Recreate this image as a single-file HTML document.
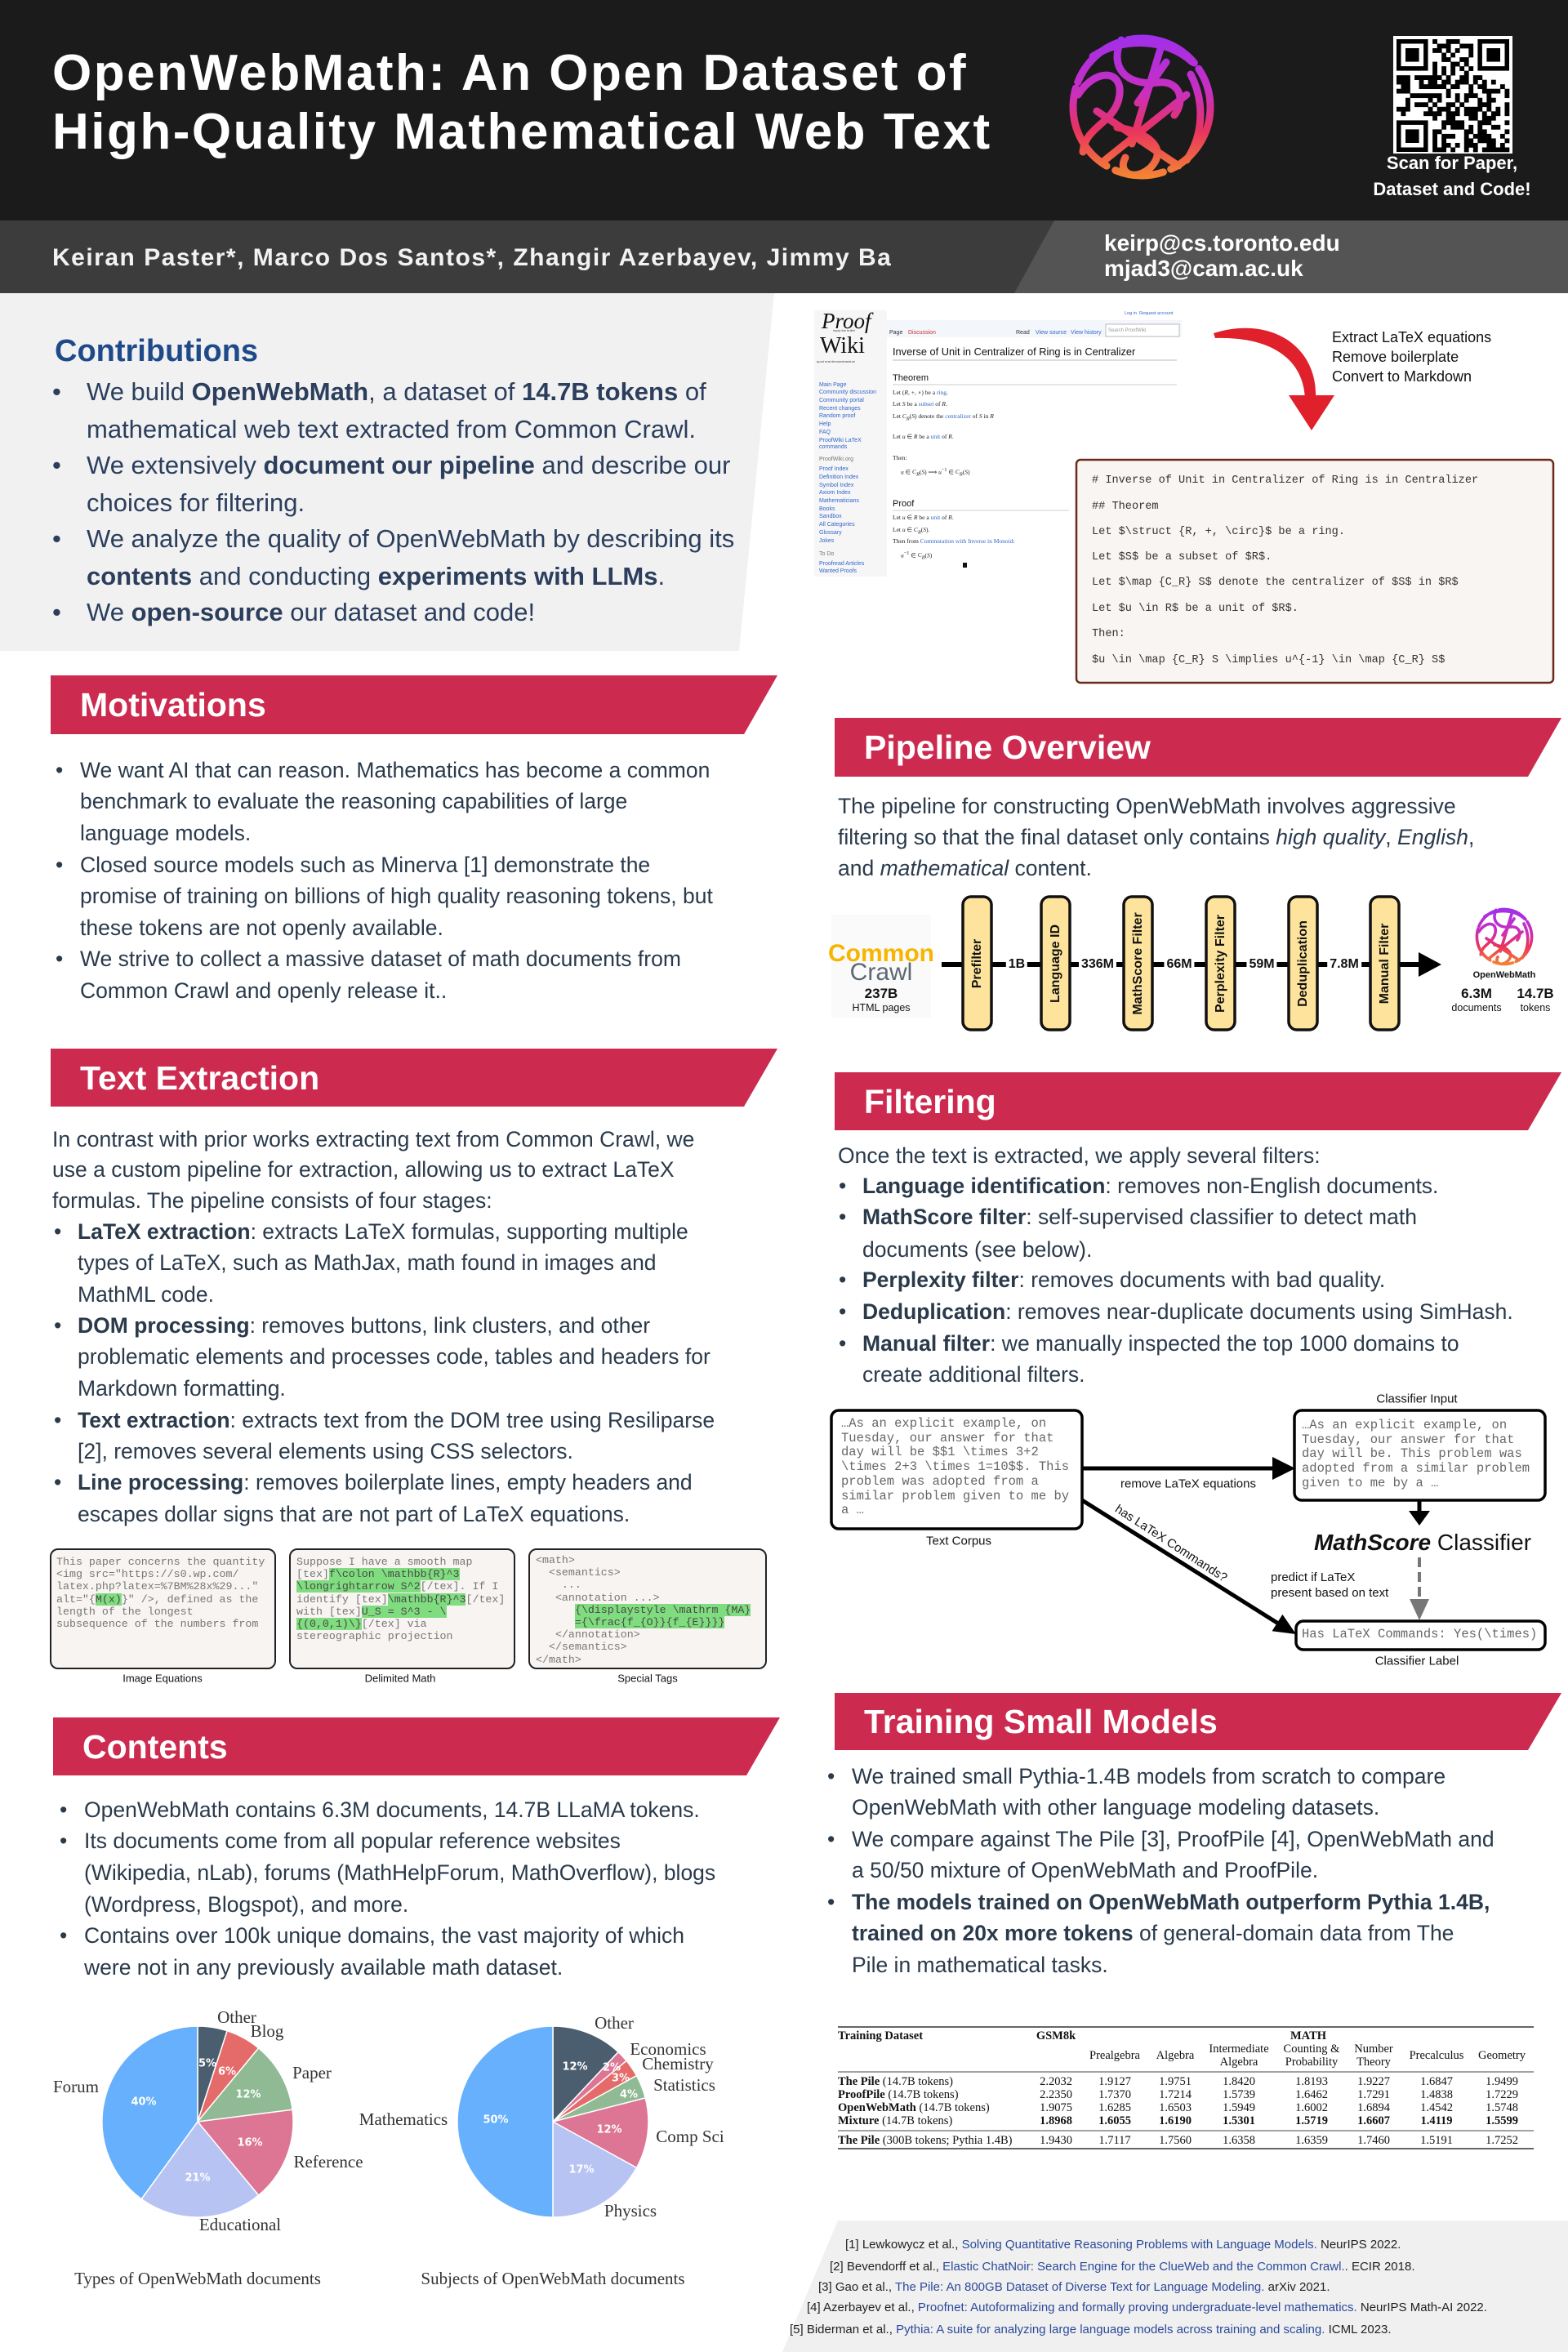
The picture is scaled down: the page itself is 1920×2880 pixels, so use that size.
<!DOCTYPE html>
<html><head><meta charset="utf-8">
<style>
body{margin:0;width:1920px;height:2880px;position:relative;overflow:hidden;background:#fff;font-family:"Liberation Sans",Arial,sans-serif}
.a{position:absolute;white-space:nowrap}
.t{position:absolute;white-space:nowrap;font-size:26.5px;color:#2a3a4b;line-height:38px;margin-top:-19px}
.c{position:absolute;white-space:nowrap;font-size:31px;color:#2b3e5c;line-height:44px;margin-top:-22px}
.h{position:absolute;white-space:nowrap;color:#fff;font-weight:bold;font-size:41px;line-height:50px;margin-top:-25px}
.mono{font-family:"Liberation Mono","DejaVu Sans Mono",monospace}
.box{position:absolute;border:2.5px solid #222;border-radius:10px;background:#f8f4f1;box-sizing:border-box;overflow:hidden}
.box pre{margin:0;font-family:"Liberation Mono",monospace;font-size:13.3px;line-height:15.2px;color:#777;position:absolute}
.g{background:#7fdc7f;color:#4a4a4a}
.cap{position:absolute;white-space:nowrap;font-size:13px;color:#111;transform:translate(-50%,-50%)}
.pl{position:absolute;white-space:nowrap;font-weight:bold;font-size:16px;color:#111;transform:translate(-50%,-50%) rotate(-90deg)}
.el{position:absolute;white-space:nowrap;font-weight:bold;font-size:16px;color:#111;background:#fff;padding:0 3px;transform:translate(-50%,-50%);line-height:20px}
.cc{position:absolute;white-space:nowrap;transform:translate(-50%,-50%)}
.cl{position:absolute;white-space:pre;font-family:"Liberation Mono",monospace;font-size:15.5px;line-height:17.7px;color:#666}
.lbl{position:absolute;white-space:nowrap;font-size:15px;color:#111;transform:translate(-50%,-50%)}
.tb{position:absolute;white-space:nowrap;font-family:"Liberation Serif",serif;font-size:14.5px;color:#111;line-height:16px;margin-top:-8px}
.tv{position:absolute;white-space:nowrap;font-family:"Liberation Serif",serif;font-size:14.5px;color:#111;line-height:16px;margin-top:-8px;transform:translateX(-50%)}
.ref{position:absolute;white-space:nowrap;font-size:15px;color:#222;line-height:20px;margin-top:-10px}
.ref span{color:#2b4a9a}
.w{position:absolute;white-space:nowrap;font-size:7px;color:#3366cc;line-height:9px;margin-top:-4.5px}
.wt{position:absolute;white-space:nowrap;font-size:7.5px;color:#222;line-height:9px;margin-top:-4.5px;font-family:"Liberation Serif",serif}
.code{position:absolute;white-space:pre;font-family:"Liberation Mono",monospace;font-size:13.6px;color:#333;line-height:18px;margin-top:-9px}
</style></head><body>

<svg width="1920" height="2880" style="position:absolute;left:0;top:0">
<defs>
<linearGradient id="lg" gradientUnits="userSpaceOnUse" x1="0" y1="-95" x2="0" y2="95">
<stop offset="0" stop-color="#9b2ff0"/><stop offset=".4" stop-color="#c92fc0"/><stop offset=".65" stop-color="#e8335f"/><stop offset="1" stop-color="#f6922c"/>
</linearGradient>
<g id="logo" fill="none" stroke="url(#lg)" stroke-width="9" stroke-linecap="round">
<circle r="84" stroke-dasharray="95 10 60 12 110 8 70 14 90 9"/>
<path d="M-60 -62 C-25 -85 30 -85 62 -55"/>
<path d="M-78 -15 C-55 -50 -20 -45 -28 -10 C-35 20 -70 25 -72 55"/>
<path d="M-25 -82 C-40 -50 -20 -25 20 -30 C45 -33 55 -10 40 10"/>
<path d="M25 -78 L-12 45"/>
<path d="M-55 5 L45 72"/>
<path d="M-45 65 L55 -15"/>
<path d="M-30 25 C5 30 35 50 10 75 C-10 92 -30 80 -20 62"/>
<path d="M60 -40 C78 -5 75 35 55 65"/>
<path d="M-5 -5 L30 -55"/>
</g>
</defs>
<!-- header -->
<rect x="0" y="0" width="1920" height="270" fill="#1b1b1b"/>
<rect x="0" y="270" width="1920" height="89" fill="#3c3c3c"/>
<polygon points="1291,270 1920,270 1920,359 1242,359" fill="#545454"/>
<use href="#logo" transform="translate(1398,131)"/>
<rect x="1706" y="44" width="146" height="144" fill="#fff"/>
<g id="qr" transform="translate(1710,48)">
<g fill="#000">
<rect x="0" y="0" width="38.6" height="38.6"/><rect x="5.5" y="5.5" width="27.6" height="27.6" fill="#fff"/><rect x="11" y="11" width="16.6" height="16.6"/>
<rect x="99.4" y="0" width="38.6" height="38.6"/><rect x="104.9" y="5.5" width="27.6" height="27.6" fill="#fff"/><rect x="110.4" y="11" width="16.6" height="16.6"/>
<rect x="0" y="99.4" width="38.6" height="38.6"/><rect x="5.5" y="104.9" width="27.6" height="27.6" fill="#fff"/><rect x="11" y="110.4" width="16.6" height="16.6"/>
</g>
</g>
<!-- contributions bg -->
<polygon points="0,359 948,359 905,797 0,797" fill="#f1f1f2"/>
<!-- banners -->
<g fill="#cc2a4f">
<polygon points="62,827 952,827 911,899 62,899"/>
<polygon points="62,1284 952,1284 911,1355 62,1355"/>
<polygon points="65,2103 955,2103 914,2174 65,2174"/>
<polygon points="1022,879 1912,879 1871,951 1022,951"/>
<polygon points="1022,1313 1912,1313 1871,1384 1022,1384"/>
<polygon points="1022,2073 1912,2073 1871,2143 1022,2143"/>
</g>
<!-- wiki screenshot -->
<rect x="997" y="380" width="450" height="326" fill="#fff"/>
<rect x="997" y="380" width="89" height="326" fill="#f6f6f6"/>
<rect x="1086" y="392" width="361" height="21" fill="#f3f6fb"/>
<rect x="1354" y="397" width="90" height="15" fill="#fff" stroke="#bbb" stroke-width="1"/>
<line x1="1093" y1="441" x2="1441" y2="441" stroke="#bbb" stroke-width="1"/>
<line x1="1093" y1="471" x2="1441" y2="471" stroke="#ccc" stroke-width="1"/>
<line x1="1093" y1="625" x2="1309" y2="625" stroke="#ccc" stroke-width="1"/>
<rect x="1179" y="689" width="5" height="6" fill="#111"/>
<!-- red arrow -->
<path d="M1486 408 C1557 386 1614 425 1611 488 L1598 488 C1596 440 1557 412 1488 414 Z" fill="#e0202a"/>
<polygon points="1578,484 1634,484 1606,527" fill="#e0202a"/>
<!-- code box -->
<rect x="1318" y="563" width="584" height="273" rx="5" fill="#f9f5f2" stroke="#6b2a1a" stroke-width="2.5"/>
<!-- pipeline -->
<rect x="1018" y="1120" width="122" height="126" fill="#fafafa"/>
<line x1="1153" y1="1181" x2="1740" y2="1181" stroke="#000" stroke-width="6"/>
<polygon points="1737,1166 1765,1181 1737,1196" fill="#000"/>
<g fill="#fde39b" stroke="#111" stroke-width="3.5">
<rect x="1179" y="1098" width="35" height="163" rx="10"/>
<rect x="1275" y="1098" width="35" height="163" rx="10"/>
<rect x="1376" y="1098" width="35" height="163" rx="10"/>
<rect x="1477" y="1098" width="35" height="163" rx="10"/>
<rect x="1578" y="1098" width="35" height="163" rx="10"/>
<rect x="1678" y="1098" width="35" height="163" rx="10"/>
</g>
<use href="#logo" transform="translate(1842,1147) scale(0.4)"/>
<!-- classifier -->
<g fill="#fff" stroke="#000" stroke-width="3.5">
<rect x="1018" y="1727" width="307" height="145" rx="9"/>
<rect x="1585" y="1727" width="307" height="110" rx="9"/>
<rect x="1587" y="1985" width="305" height="35" rx="9"/>
</g>
<line x1="1325" y1="1798" x2="1562" y2="1798" stroke="#000" stroke-width="5"/>
<polygon points="1558,1784 1586,1798 1558,1812" fill="#000"/>
<line x1="1738" y1="1837" x2="1738" y2="1852" stroke="#000" stroke-width="5"/>
<polygon points="1725,1850 1751,1850 1738,1868" fill="#000"/>
<line x1="1738" y1="1907" x2="1738" y2="1960" stroke="#777" stroke-width="4" stroke-dasharray="12 6"/>
<polygon points="1726,1958 1750,1958 1738,1984" fill="#777"/>
<line x1="1325" y1="1837" x2="1570" y2="1991" stroke="#000" stroke-width="5"/>
<polygon points="1557.6,1997.3 1570.4,1976.9 1587,2001" fill="#000"/>
<!-- pies -->
<g stroke="#fff" stroke-width="1.5">
<path d="M242 2598 L242 2481 A117 117 0 0 1 278.2 2486.7 Z" fill="#4b5e6f"/>
<path d="M242 2598 L278.2 2486.7 A117 117 0 0 1 316.6 2507.9 Z" fill="#e56b6b"/>
<path d="M242 2598 L316.6 2507.9 A117 117 0 0 1 358.1 2583.3 Z" fill="#8fba93"/>
<path d="M242 2598 L358.1 2583.3 A117 117 0 0 1 316.6 2688.1 Z" fill="#dd7595"/>
<path d="M242 2598 L316.6 2688.1 A117 117 0 0 1 173.2 2692.7 Z" fill="#b7c3f2"/>
<path d="M242 2598 L173.2 2692.7 A117 117 0 0 1 242 2481 Z" fill="#66b0fd"/>
<path d="M677 2598 L677 2481 A117 117 0 0 1 757.1 2512.7 Z" fill="#4b5e6f"/>
<path d="M677 2598 L757.1 2512.7 A117 117 0 0 1 767.1 2523.4 Z" fill="#dd7595"/>
<path d="M677 2598 L767.1 2523.4 A117 117 0 0 1 779.5 2541.6 Z" fill="#e56b6b"/>
<path d="M677 2598 L779.5 2541.6 A117 117 0 0 1 790.3 2568.9 Z" fill="#8fba93"/>
<path d="M677 2598 L790.3 2568.9 A117 117 0 0 1 779.5 2654.4 Z" fill="#dd7595"/>
<path d="M677 2598 L779.5 2654.4 A117 117 0 0 1 677 2715 Z" fill="#b7c3f2"/>
<path d="M677 2598 L677 2715 A117 117 0 0 1 677 2481 Z" fill="#66b0fd"/>
</g>
<g font-family="DejaVu Sans, sans-serif" font-weight="bold" font-size="13" fill="#fff" text-anchor="middle" dominant-baseline="central">
<text x="254" y="2527">5%</text><text x="278" y="2537">6%</text><text x="304" y="2565">12%</text><text x="306" y="2624">16%</text><text x="242" y="2667">21%</text><text x="176" y="2574">40%</text>
<text x="704" y="2531">12%</text><text x="749" y="2532">2%</text><text x="760" y="2545">3%</text><text x="770" y="2565">4%</text><text x="746" y="2608">12%</text><text x="712" y="2657">17%</text><text x="607" y="2596">50%</text>
</g>
<g font-family="Liberation Serif, serif" font-size="21" fill="#333" text-anchor="middle" dominant-baseline="central">
<text x="290" y="2470">Other</text><text x="327" y="2487">Blog</text><text x="382" y="2538">Paper</text><text x="402" y="2647">Reference</text><text x="294" y="2724">Educational</text><text x="93" y="2555">Forum</text>
<text x="752" y="2477">Other</text><text x="818" y="2509">Economics</text><text x="830" y="2527">Chemistry</text><text x="838" y="2553">Statistics</text><text x="845" y="2616">Comp Sci</text><text x="772" y="2707">Physics</text><text x="494" y="2595">Mathematics</text>
<text x="242" y="2790">Types of OpenWebMath documents</text>
<text x="677" y="2790">Subjects of OpenWebMath documents</text>
</g>
<!-- table rules -->
<line x1="1026" y1="2482" x2="1878" y2="2482" stroke="#333" stroke-width="1.6"/>
<line x1="1026" y1="2537" x2="1878" y2="2537" stroke="#444" stroke-width="1"/>
<line x1="1026" y1="2609" x2="1878" y2="2609" stroke="#444" stroke-width="1"/>
<line x1="1026" y1="2631" x2="1878" y2="2631" stroke="#333" stroke-width="1.4"/>
<!-- references bg -->
<polygon points="1026,2719 1920,2719 1920,2880 958,2880" fill="#f0f0f0"/>
</svg>

<!-- HEADER TEXT -->
<div class="a" style="left:64px;top:54px;font-size:62px;letter-spacing:2.5px;font-weight:bold;color:#fff;line-height:72px">OpenWebMath: An Open Dataset of</div>
<div class="a" style="left:64px;top:126px;font-size:62px;letter-spacing:2.5px;font-weight:bold;color:#fff;line-height:72px">High-Quality Mathematical Web Text</div>
<div class="cc" style="left:1778px;top:200px;font-size:22px;font-weight:bold;color:#fff">Scan for Paper,</div>
<div class="cc" style="left:1778px;top:232px;font-size:22px;font-weight:bold;color:#fff">Dataset and Code!</div>
<div class="a" style="left:64px;top:296px;font-size:30px;letter-spacing:1.5px;font-weight:bold;color:#f2f2f2;line-height:40px">Keiran Paster*, Marco Dos Santos*, Zhangir Azerbayev, Jimmy Ba</div>
<div class="a" style="left:1352px;top:279px;font-size:28px;font-weight:bold;color:#fff;line-height:38px">keirp@cs.toronto.edu</div>
<div class="a" style="left:1352px;top:310px;font-size:28px;font-weight:bold;color:#fff;line-height:38px">mjad3@cam.ac.uk</div>

<!-- CONTRIBUTIONS -->
<div class="a" style="left:67px;top:406px;font-size:38px;font-weight:bold;color:#1f4a8a;line-height:48px">Contributions</div>
<div class="c" style="left:64px;top:480px">•</div><div class="c" style="left:106px;top:480px">We build <b>OpenWebMath</b>, a dataset of <b>14.7B tokens</b> of</div>
<div class="c" style="left:106px;top:526px">mathematical web text extracted from Common Crawl.</div>
<div class="c" style="left:64px;top:570px">•</div><div class="c" style="left:106px;top:570px">We extensively <b>document our pipeline</b> and describe our</div>
<div class="c" style="left:106px;top:616px">choices for filtering.</div>
<div class="c" style="left:64px;top:660px">•</div><div class="c" style="left:106px;top:660px">We analyze the quality of OpenWebMath by describing its</div>
<div class="c" style="left:106px;top:706px"><b>contents</b> and conducting <b>experiments with LLMs</b>.</div>
<div class="c" style="left:64px;top:750px">•</div><div class="c" style="left:106px;top:750px">We <b>open-source</b> our dataset and code!</div>

<!-- WIKI screenshot text -->
<div class="a" style="left:1006px;top:378px;font-family:'Liberation Serif',serif;font-style:italic;font-size:27px;color:#111;line-height:30px">Proof</div>
<div class="a" style="left:1020px;top:402px;font-size:4px;color:#444">imply the bullet</div>
<div class="a" style="left:1004px;top:409px;font-family:'Liberation Serif',serif;font-size:28px;color:#111;line-height:30px">Wiki</div>
<div class="a" style="left:1000px;top:440px;font-size:4px;color:#444">quod erat demonstrandum</div>
<div class="w" style="left:1003px;top:471px">Main Page</div>
<div class="w" style="left:1003px;top:480px">Community discussion</div>
<div class="w" style="left:1003px;top:490px">Community portal</div>
<div class="w" style="left:1003px;top:500px">Recent changes</div>
<div class="w" style="left:1003px;top:509px">Random proof</div>
<div class="w" style="left:1003px;top:519px">Help</div>
<div class="w" style="left:1003px;top:529px">FAQ</div>
<div class="w" style="left:1003px;top:539px">ProofWiki LaTeX</div>
<div class="w" style="left:1003px;top:547px">commands</div>
<div class="w" style="left:1003px;top:562px;color:#777">ProofWiki.org</div>
<div class="w" style="left:1003px;top:574px">Proof Index</div>
<div class="w" style="left:1003px;top:584px">Definition Index</div>
<div class="w" style="left:1003px;top:594px">Symbol Index</div>
<div class="w" style="left:1003px;top:603px">Axiom Index</div>
<div class="w" style="left:1003px;top:613px">Mathematicians</div>
<div class="w" style="left:1003px;top:623px">Books</div>
<div class="w" style="left:1003px;top:632px">Sandbox</div>
<div class="w" style="left:1003px;top:642px">All Categories</div>
<div class="w" style="left:1003px;top:652px">Glossary</div>
<div class="w" style="left:1003px;top:662px">Jokes</div>
<div class="w" style="left:1003px;top:678px;color:#777">To Do</div>
<div class="w" style="left:1003px;top:690px">Proofread Articles</div>
<div class="w" style="left:1003px;top:699px">Wanted Proofs</div>
<div class="w" style="left:1377px;top:384px;font-size:5.5px">Log in &nbsp;Request account</div>
<div class="w" style="left:1089px;top:407px;color:#333">Page</div>
<div class="w" style="left:1112px;top:407px;color:#c33">Discussion</div>
<div class="w" style="left:1244px;top:407px;color:#333">Read</div>
<div class="w" style="left:1268px;top:407px">View source</div>
<div class="w" style="left:1311px;top:407px">View history</div>
<div class="w" style="left:1357px;top:405px;color:#999;font-size:6px">Search ProofWiki</div>
<div class="a" style="left:1093px;top:423px;font-size:12.8px;color:#111;line-height:16px">Inverse of Unit in Centralizer of Ring is in Centralizer</div>
<div class="a" style="left:1093px;top:456px;font-size:11px;color:#111;line-height:14px">Theorem</div>
<div class="wt" style="left:1093px;top:480px">Let (<i>R</i>, +, ∘) be a <span style="color:#3366cc">ring</span>.</div>
<div class="wt" style="left:1093px;top:494px">Let <i>S</i> be a <span style="color:#3366cc">subset</span> of <i>R</i>.</div>
<div class="wt" style="left:1093px;top:509px">Let <i>C<sub>R</sub></i>(<i>S</i>) denote the <span style="color:#3366cc">centralizer</span> of <i>S</i> in <i>R</i></div>
<div class="wt" style="left:1093px;top:534px">Let <i>u</i> ∈ <i>R</i> be a <span style="color:#3366cc">unit</span> of <i>R</i>.</div>
<div class="wt" style="left:1093px;top:560px">Then:</div>
<div class="wt" style="left:1103px;top:575px"><i>u</i> ∈ <i>C<sub>R</sub></i>(<i>S</i>) ⟹ <i>u</i><sup>−1</sup> ∈ <i>C<sub>R</sub></i>(<i>S</i>)</div>
<div class="a" style="left:1093px;top:610px;font-size:11px;color:#111;line-height:14px">Proof</div>
<div class="wt" style="left:1093px;top:633px">Let <i>u</i> ∈ <i>R</i> be a <span style="color:#3366cc">unit</span> of <i>R</i>.</div>
<div class="wt" style="left:1093px;top:648px">Let <i>u</i> ∈ <i>C<sub>R</sub></i>(<i>S</i>).</div>
<div class="wt" style="left:1093px;top:662px">Then from <span style="color:#3366cc">Commutation with Inverse in Monoid</span>:</div>
<div class="wt" style="left:1103px;top:677px"><i>u</i><sup>−1</sup> ∈ <i>C<sub>R</sub></i>(<i>S</i>)</div>

<div class="a" style="left:1631px;top:401px;font-size:18px;color:#111;line-height:24px">Extract LaTeX equations</div>
<div class="a" style="left:1631px;top:425px;font-size:18px;color:#111;line-height:24px">Remove boilerplate</div>
<div class="a" style="left:1631px;top:449px;font-size:18px;color:#111;line-height:24px">Convert to Markdown</div>

<div class="code" style="left:1337px;top:589px"># Inverse of Unit in Centralizer of Ring is in Centralizer</div>
<div class="code" style="left:1337px;top:621px">## Theorem</div>
<div class="code" style="left:1337px;top:652px">Let $\struct {R, +, \circ}$ be a ring.</div>
<div class="code" style="left:1337px;top:683px">Let $S$ be a subset of $R$.</div>
<div class="code" style="left:1337px;top:714px">Let $\map {C_R} S$ denote the centralizer of $S$ in $R$</div>
<div class="code" style="left:1337px;top:746px">Let $u \in R$ be a unit of $R$.</div>
<div class="code" style="left:1337px;top:777px">Then:</div>
<div class="code" style="left:1337px;top:809px">$u \in \map {C_R} S \implies u^{-1} \in \map {C_R} S$</div>

<!-- BANNER HEADINGS -->
<div class="h" style="left:98px;top:863px">Motivations</div>
<div class="h" style="left:98px;top:1320px">Text Extraction</div>
<div class="h" style="left:101px;top:2139px">Contents</div>
<div class="h" style="left:1058px;top:915px">Pipeline Overview</div>
<div class="h" style="left:1058px;top:1349px">Filtering</div>
<div class="h" style="left:1058px;top:2108px">Training Small Models</div>

<!-- MOTIVATIONS -->
<div class="t" style="left:68px;top:943px">•</div><div class="t" style="left:98px;top:943px">We want AI that can reason. Mathematics has become a common</div>
<div class="t" style="left:98px;top:981px">benchmark to evaluate the reasoning capabilities of large</div>
<div class="t" style="left:98px;top:1020px">language models.</div>
<div class="t" style="left:68px;top:1059px">•</div><div class="t" style="left:98px;top:1059px">Closed source models such as Minerva [1] demonstrate the</div>
<div class="t" style="left:98px;top:1097px">promise of training on billions of high quality reasoning tokens, but</div>
<div class="t" style="left:98px;top:1136px">these tokens are not openly available.</div>
<div class="t" style="left:68px;top:1174px">•</div><div class="t" style="left:98px;top:1174px">We strive to collect a massive dataset of math documents from</div>
<div class="t" style="left:98px;top:1213px">Common Crawl and openly release it..</div>

<!-- TEXT EXTRACTION -->
<div class="t" style="left:64px;top:1395px">In contrast with prior works extracting text from Common Crawl, we</div>
<div class="t" style="left:64px;top:1432px">use a custom pipeline for extraction, allowing us to extract LaTeX</div>
<div class="t" style="left:64px;top:1470px">formulas. The pipeline consists of four stages:</div>
<div class="t" style="left:66px;top:1508px">•</div><div class="t" style="left:95px;top:1508px"><b>LaTeX extraction</b>: extracts LaTeX formulas, supporting multiple</div>
<div class="t" style="left:95px;top:1546px">types of LaTeX, such as MathJax, math found in images and</div>
<div class="t" style="left:95px;top:1585px">MathML code.</div>
<div class="t" style="left:66px;top:1623px">•</div><div class="t" style="left:95px;top:1623px"><b>DOM processing</b>: removes buttons, link clusters, and other</div>
<div class="t" style="left:95px;top:1661px">problematic elements and processes code, tables and headers for</div>
<div class="t" style="left:95px;top:1700px">Markdown formatting.</div>
<div class="t" style="left:66px;top:1739px">•</div><div class="t" style="left:95px;top:1739px"><b>Text extraction</b>: extracts text from the DOM tree using Resiliparse</div>
<div class="t" style="left:95px;top:1777px">[2], removes several elements using CSS selectors.</div>
<div class="t" style="left:66px;top:1815px">•</div><div class="t" style="left:95px;top:1815px"><b>Line processing</b>: removes boilerplate lines, empty headers and</div>
<div class="t" style="left:95px;top:1854px">escapes dollar signs that are not part of LaTeX equations.</div>

<div class="box" style="left:61px;top:1896px;width:277px;height:148px"><pre style="left:6px;top:7px">This paper concerns the quantity
&lt;img src="https://s0.wp.com/
latex.php?latex=%7BM%28x%29..."
alt="{<span class="g">M(x)</span>}" /&gt;, defined as the
length of the longest
subsequence of the numbers from</pre></div>
<div class="box" style="left:354px;top:1896px;width:277px;height:148px"><pre style="left:7px;top:7px">Suppose I have a smooth map
[tex]<span class="g">f\colon \mathbb{R}^3</span>
<span class="g">\longrightarrow S^2</span>[/tex]. If I
identify [tex]<span class="g">\mathbb{R}^3</span>[/tex]
with [tex]<span class="g">U_S = S^3 - \</span>
<span class="g">{(0,0,1)\}</span>[/tex] via
stereographic projection</pre></div>
<div class="box" style="left:647px;top:1896px;width:292px;height:148px"><pre style="left:7px;top:5px">&lt;math&gt;
  &lt;semantics&gt;
    ...
   &lt;annotation ...&gt;
      <span class="g">{\displaystyle \mathrm {MA}</span>
      <span class="g">={\frac{f_{O}}{f_{E}}}}</span>
   &lt;/annotation&gt;
  &lt;/semantics&gt;
&lt;/math&gt;</pre></div>
<div class="cap" style="left:199px;top:2055px">Image Equations</div>
<div class="cap" style="left:490px;top:2055px">Delimited Math</div>
<div class="cap" style="left:793px;top:2055px">Special Tags</div>

<!-- CONTENTS -->
<div class="t" style="left:73px;top:2216px">•</div><div class="t" style="left:103px;top:2216px">OpenWebMath contains 6.3M documents, 14.7B LLaMA tokens.</div>
<div class="t" style="left:73px;top:2254px">•</div><div class="t" style="left:103px;top:2254px">Its documents come from all popular reference websites</div>
<div class="t" style="left:103px;top:2293px">(Wikipedia, nLab), forums (MathHelpForum, MathOverflow), blogs</div>
<div class="t" style="left:103px;top:2332px">(Wordpress, Blogspot), and more.</div>
<div class="t" style="left:73px;top:2370px">•</div><div class="t" style="left:103px;top:2370px">Contains over 100k unique domains, the vast majority of which</div>
<div class="t" style="left:103px;top:2409px">were not in any previously available math dataset.</div>

<!-- PIPELINE -->
<div class="t" style="left:1026px;top:987px">The pipeline for constructing OpenWebMath involves aggressive</div>
<div class="t" style="left:1026px;top:1025px">filtering so that the final dataset only contains <i>high quality</i>, <i>English</i>,</div>
<div class="t" style="left:1026px;top:1063px">and <i>mathematical</i> content.</div>

<div class="cc" style="left:1079px;top:1168px;font-size:30px;color:#f7b500;font-weight:600">Common</div>
<div class="cc" style="left:1079px;top:1191px;font-size:30px;color:#5d6873">Crawl</div>
<div class="cc" style="left:1079px;top:1217px;font-size:17px;font-weight:bold;color:#111">237B</div>
<div class="cc" style="left:1079px;top:1234px;font-size:12.5px;color:#111">HTML pages</div>
<div class="pl" style="left:1196.5px;top:1180px">Prefilter</div>
<div class="pl" style="left:1292.5px;top:1180px">Language ID</div>
<div class="pl" style="left:1393.5px;top:1180px">MathScore Filter</div>
<div class="pl" style="left:1494.5px;top:1180px">Perplexity Filter</div>
<div class="pl" style="left:1595.5px;top:1180px">Deduplication</div>
<div class="pl" style="left:1695.5px;top:1180px">Manual Filter</div>
<div class="el" style="left:1245px;top:1181px">1B</div>
<div class="el" style="left:1344px;top:1181px">336M</div>
<div class="el" style="left:1444px;top:1181px">66M</div>
<div class="el" style="left:1545px;top:1181px">59M</div>
<div class="el" style="left:1646px;top:1181px">7.8M</div>
<div class="cc" style="left:1842px;top:1194px;font-size:11px;font-weight:bold;color:#111">OpenWebMath</div>
<div class="cc" style="left:1808px;top:1217px;font-size:17px;font-weight:bold;color:#111">6.3M</div>
<div class="cc" style="left:1808px;top:1234px;font-size:12.5px;color:#111">documents</div>
<div class="cc" style="left:1880px;top:1217px;font-size:17px;font-weight:bold;color:#111">14.7B</div>
<div class="cc" style="left:1880px;top:1234px;font-size:12.5px;color:#111">tokens</div>

<!-- FILTERING -->
<div class="t" style="left:1026px;top:1415px">Once the text is extracted, we apply several filters:</div>
<div class="t" style="left:1027px;top:1452px">•</div><div class="t" style="left:1056px;top:1452px"><b>Language identification</b>: removes non-English documents.</div>
<div class="t" style="left:1027px;top:1490px">•</div><div class="t" style="left:1056px;top:1490px"><b>MathScore filter</b>: self-supervised classifier to detect math</div>
<div class="t" style="left:1056px;top:1530px">documents (see below).</div>
<div class="t" style="left:1027px;top:1567px">•</div><div class="t" style="left:1056px;top:1567px"><b>Perplexity filter</b>: removes documents with bad quality.</div>
<div class="t" style="left:1027px;top:1606px">•</div><div class="t" style="left:1056px;top:1606px"><b>Deduplication</b>: removes near-duplicate documents using SimHash.</div>
<div class="t" style="left:1027px;top:1645px">•</div><div class="t" style="left:1056px;top:1645px"><b>Manual filter</b>: we manually inspected the top 1000 domains to</div>
<div class="t" style="left:1056px;top:1683px">create additional filters.</div>

<!-- CLASSIFIER -->
<div class="lbl" style="left:1735px;top:1713px">Classifier Input</div>
<div class="cl" style="left:1030px;top:1735px">…As an explicit example, on
Tuesday, our answer for that
day will be $$1 \times 3+2
\times 2+3 \times 1=10$$. This
problem was adopted from a
similar problem given to me by
a …</div>
<div class="cl" style="left:1594px;top:1737px">…As an explicit example, on
Tuesday, our answer for that
day will be. This problem was
adopted from a similar problem
given to me by a …</div>
<div class="lbl" style="left:1174px;top:1887px">Text Corpus</div>
<div class="lbl" style="left:1455px;top:1817px">remove LaTeX equations</div>
<div class="lbl" style="left:1434px;top:1890px;transform:translate(-50%,-50%) rotate(33deg)">has LaTeX Commands?</div>
<div class="cc" style="left:1742px;top:1889px;font-size:28px;color:#111"><b><i>MathScore</i></b> Classifier</div>
<div class="a" style="left:1556px;top:1922px;font-size:15px;color:#111;line-height:19px">predict if LaTeX</div>
<div class="a" style="left:1556px;top:1941px;font-size:15px;color:#111;line-height:19px">present based on text</div>
<div class="cl" style="left:1594px;top:1993px">Has LaTeX Commands: Yes(\times)</div>
<div class="lbl" style="left:1735px;top:2034px">Classifier Label</div>

<!-- TRAINING -->
<div class="t" style="left:1013px;top:2175px">•</div><div class="t" style="left:1043px;top:2175px">We trained small Pythia-1.4B models from scratch to compare</div>
<div class="t" style="left:1043px;top:2213px">OpenWebMath with other language modeling datasets.</div>
<div class="t" style="left:1013px;top:2252px">•</div><div class="t" style="left:1043px;top:2252px">We compare against The Pile [3], ProofPile [4], OpenWebMath and</div>
<div class="t" style="left:1043px;top:2290px">a 50/50 mixture of OpenWebMath and ProofPile.</div>
<div class="t" style="left:1013px;top:2329px">•</div><div class="t" style="left:1043px;top:2329px"><b>The models trained on OpenWebMath outperform Pythia 1.4B,</b></div>
<div class="t" style="left:1043px;top:2367px"><b>trained on 20x more tokens</b> of general-domain data from The</div>
<div class="t" style="left:1043px;top:2406px">Pile in mathematical tasks.</div>

<!-- TABLE -->
<div class="tb" style="left:1026px;top:2493px"><b>Training Dataset</b></div>
<div class="tv" style="left:1293px;top:2493px"><b>GSM8k</b></div>
<div class="tv" style="left:1602px;top:2493px"><b>MATH</b></div>
<div class="tv" style="left:1365px;top:2517px">Prealgebra</div>
<div class="tv" style="left:1439px;top:2517px">Algebra</div>
<div class="tv" style="left:1517px;top:2509px">Intermediate</div>
<div class="tv" style="left:1517px;top:2525px">Algebra</div>
<div class="tv" style="left:1606px;top:2509px">Counting &amp;</div>
<div class="tv" style="left:1606px;top:2525px">Probability</div>
<div class="tv" style="left:1682px;top:2509px">Number</div>
<div class="tv" style="left:1682px;top:2525px">Theory</div>
<div class="tv" style="left:1759px;top:2517px">Precalculus</div>
<div class="tv" style="left:1839px;top:2517px">Geometry</div>

<div class="tb" style="left:1026px;top:2549px"><b>The Pile</b> (14.7B tokens)</div>
<div class="tb" style="left:1026px;top:2565px"><b>ProofPile</b> (14.7B tokens)</div>
<div class="tb" style="left:1026px;top:2581px"><b>OpenWebMath</b> (14.7B tokens)</div>
<div class="tb" style="left:1026px;top:2597px"><b>Mixture</b> (14.7B tokens)</div>
<div class="tb" style="left:1026px;top:2621px"><b>The Pile</b> (300B tokens; Pythia 1.4B)</div>

<div class="tv" style="left:1293px;top:2549px">2.2032</div><div class="tv" style="left:1365px;top:2549px">1.9127</div><div class="tv" style="left:1439px;top:2549px">1.9751</div><div class="tv" style="left:1517px;top:2549px">1.8420</div><div class="tv" style="left:1606px;top:2549px">1.8193</div><div class="tv" style="left:1682px;top:2549px">1.9227</div><div class="tv" style="left:1759px;top:2549px">1.6847</div><div class="tv" style="left:1839px;top:2549px">1.9499</div>
<div class="tv" style="left:1293px;top:2565px">2.2350</div><div class="tv" style="left:1365px;top:2565px">1.7370</div><div class="tv" style="left:1439px;top:2565px">1.7214</div><div class="tv" style="left:1517px;top:2565px">1.5739</div><div class="tv" style="left:1606px;top:2565px">1.6462</div><div class="tv" style="left:1682px;top:2565px">1.7291</div><div class="tv" style="left:1759px;top:2565px">1.4838</div><div class="tv" style="left:1839px;top:2565px">1.7229</div>
<div class="tv" style="left:1293px;top:2581px">1.9075</div><div class="tv" style="left:1365px;top:2581px">1.6285</div><div class="tv" style="left:1439px;top:2581px">1.6503</div><div class="tv" style="left:1517px;top:2581px">1.5949</div><div class="tv" style="left:1606px;top:2581px">1.6002</div><div class="tv" style="left:1682px;top:2581px">1.6894</div><div class="tv" style="left:1759px;top:2581px">1.4542</div><div class="tv" style="left:1839px;top:2581px">1.5748</div>
<div class="tv" style="left:1293px;top:2597px"><b>1.8968</b></div><div class="tv" style="left:1365px;top:2597px"><b>1.6055</b></div><div class="tv" style="left:1439px;top:2597px"><b>1.6190</b></div><div class="tv" style="left:1517px;top:2597px"><b>1.5301</b></div><div class="tv" style="left:1606px;top:2597px"><b>1.5719</b></div><div class="tv" style="left:1682px;top:2597px"><b>1.6607</b></div><div class="tv" style="left:1759px;top:2597px"><b>1.4119</b></div><div class="tv" style="left:1839px;top:2597px"><b>1.5599</b></div>
<div class="tv" style="left:1293px;top:2621px">1.9430</div><div class="tv" style="left:1365px;top:2621px">1.7117</div><div class="tv" style="left:1439px;top:2621px">1.7560</div><div class="tv" style="left:1517px;top:2621px">1.6358</div><div class="tv" style="left:1606px;top:2621px">1.6359</div><div class="tv" style="left:1682px;top:2621px">1.7460</div><div class="tv" style="left:1759px;top:2621px">1.5191</div><div class="tv" style="left:1839px;top:2621px">1.7252</div>

<!-- REFERENCES -->
<div class="ref" style="left:1035px;top:2749px">[1] Lewkowycz et al., <span>Solving Quantitative Reasoning Problems with Language Models.</span> NeurIPS 2022.</div>
<div class="ref" style="left:1016px;top:2776px">[2] Bevendorff et al., <span>Elastic ChatNoir: Search Engine for the ClueWeb and the Common Crawl.</span>. ECIR 2018.</div>
<div class="ref" style="left:1002px;top:2801px">[3] Gao et al., <span>The Pile: An 800GB Dataset of Diverse Text for Language Modeling.</span> arXiv 2021.</div>
<div class="ref" style="left:988px;top:2826px">[4] Azerbayev et al., <span>Proofnet: Autoformalizing and formally proving undergraduate-level mathematics.</span> NeurIPS Math-AI 2022.</div>
<div class="ref" style="left:967px;top:2853px">[5] Biderman et al., <span>Pythia: A suite for analyzing large language models across training and scaling.</span> ICML 2023.</div>

<script>
(function(){
var g=document.getElementById('qr');if(!g)return;
var n=25,s=138/25,seed=12345,out='';
function r(){seed=(seed*16807)%2147483647;return seed/2147483647;}
function inF(i,j,a,b){return i>=a&&i<a+8&&j>=b&&j<b+8;}
for(var i=0;i<n;i++){for(var j=0;j<n;j++){
if(inF(i,j,0,0)||inF(i,j,0,17)||inF(i,j,17,0))continue;
var d;
if(i==6||j==6){d=((i+j)%2==0);}
else d=r()<0.5;
if(d)out+='<rect x="'+(j*s).toFixed(2)+'" y="'+(i*s).toFixed(2)+'" width="'+(s+0.3).toFixed(2)+'" height="'+(s+0.3).toFixed(2)+'"/>';
}}
var NS='http://www.w3.org/2000/svg';
var grp=document.createElementNS(NS,'g');grp.setAttribute('fill','#000');
grp.innerHTML=out;g.appendChild(grp);
})();
</script>
</body></html>
